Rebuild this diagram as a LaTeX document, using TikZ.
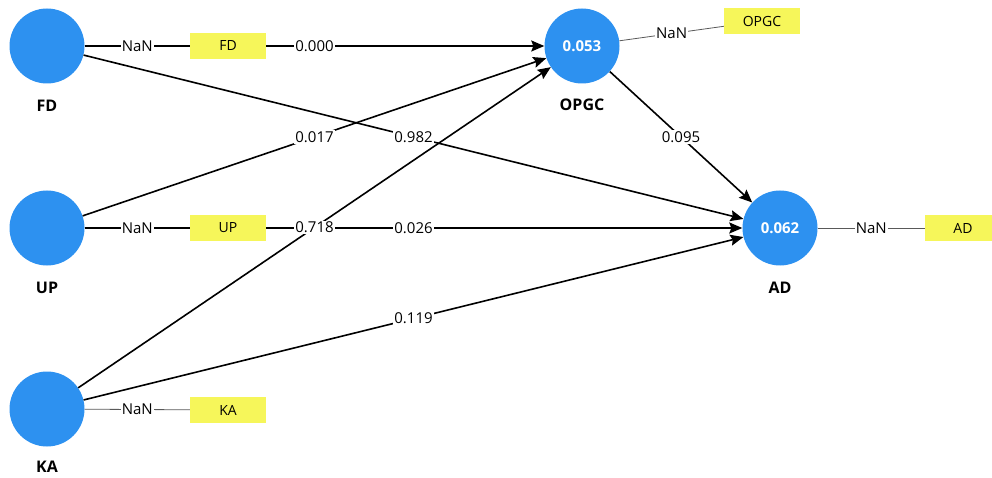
\documentclass[tikz,border=0pt]{standalone}
\usepackage{fontspec}
\setmainfont{Open Sans}
\usetikzlibrary{positioning, arrows.meta}
\definecolor{lvblue}{RGB}{45,145,240}
\definecolor{indyellow}{RGB}{246,246,90}

\begin{document}
\begin{tikzpicture}[x=1pt, y=-1pt,
        lv/.style={circle, fill=lvblue, minimum size=75pt, inner sep=0pt, text=white,
                   font=\fontsize{15}{18}\selectfont\bfseries},
        lvname/.style={inner sep=1pt, font=\fontsize{16}{19}\selectfont\bfseries},
        ind/.style={fill=indyellow, minimum width=76pt, minimum height=26pt, inner sep=0pt,
                    font=\fontsize{14}{17}\selectfont},
        rel/.style={line width=1.6pt, -{Stealth[length=13pt, width=11pt, inset=2pt]}},
        coef/.style={fill=white, text=black, inner sep=1pt, font=\fontsize{15}{18}\selectfont},
        load/.style={line width=1.6pt},
        loadthin/.style={line width=0.8pt, draw=black!65}]
      \useasboundingbox (0,0) rectangle (992,478);
      % latent variables
      \node[lv] (FD) at (47,46) {};
      \node[lv] (UP) at (47,228) {};
      \node[lv] (KA) at (47,409) {};
      \node[lv] (OPGC) at (582,46) {0.053};
      \node[lv] (AD) at (780,228) {0.062};
      \node[lvname, below=15pt of FD] (FDname) {FD};
      \node[lvname, below=15pt of UP] (UPname) {UP};
      \node[lvname, below=13pt of KA] (KAname) {KA};
      \node[lvname, below=14pt of OPGC] (OPGCname) {OPGC};
      \node[lvname, below=15pt of AD] (ADname) {AD};
      % structural paths
      \draw[rel] (UP) -- node[coef] {0.026} (AD);
      \draw[rel] (FD) -- node[coef] {0.000} (OPGC);
      \draw[rel] (UP) -- node[coef] {0.017} (OPGC);
      \draw[rel] (KA) -- node[coef] {0.718} (OPGC);
      \draw[rel] (FD) -- node[coef] {0.982} (AD);
      \draw[rel] (KA) -- node[coef] {0.119} (AD);
      \draw[rel] (OPGC) -- node[coef] {0.095} (AD);
      % indicators
      \node[ind] (FDbox) at (228,46) {FD};
      \node[ind] (UPbox) at (228,228) {UP};
      \node[ind] (KAbox) at (228,410) {KA};
      \node[ind] (OPGCbox) at (762,21) {OPGC};
      \node[ind] (ADbox) at (963,228) {AD};
      \draw[load] (FD) -- node[coef] {NaN} (FDbox);
      \draw[load] (UP) -- node[coef] {NaN} (UPbox);
      \draw[loadthin] (KA) -- node[coef] {NaN} (KAbox);
      \draw[loadthin] (OPGC) -- node[coef] {NaN} (OPGCbox);
      \draw[loadthin] (AD) -- node[coef] {NaN} (ADbox);
    \end{tikzpicture}
\end{document}
